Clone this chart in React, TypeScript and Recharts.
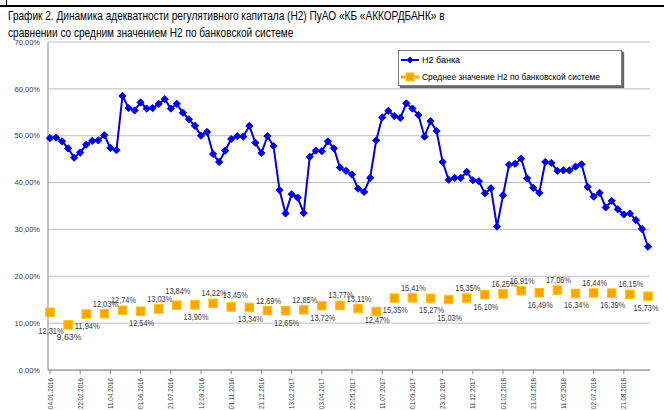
import React from "react";
import { CartesianGrid, LabelList, Legend, Line, LineChart, XAxis, YAxis } from "recharts";

// Н2 банка, % (один замер на декаду, 100 точек)
const BANK_H2 = [
  49.5, 49.6, 48.8, 47.3, 45.3, 46.4, 48.1, 48.9, 49.0, 50.1,
  47.4, 46.9, 58.5, 55.9, 55.4, 57.1, 55.8, 55.9, 56.8, 57.8,
  55.8, 56.8, 54.9, 53.5, 52.1, 50.0, 50.8, 46.1, 44.4, 46.8,
  49.3, 49.9, 49.8, 52.1, 48.5, 46.3, 49.9, 47.8, 38.4, 33.4,
  37.5, 36.8, 33.5, 45.5, 46.8, 46.7, 48.8, 47.3, 43.2, 42.5,
  41.7, 38.7, 38.0, 41.0, 49.0, 53.9, 55.3, 54.2, 53.8, 56.9,
  55.8, 54.4, 49.8, 53.1, 51.0, 44.4, 40.6, 41.0, 41.0, 42.3,
  40.5, 40.3, 37.7, 38.8, 30.6, 37.3, 43.8, 44.0, 45.1, 40.9,
  38.9, 37.8, 44.4, 44.2, 42.5, 42.6, 42.6, 43.4, 43.9, 39.1,
  37.0, 37.8, 34.7, 36.1, 34.3, 33.2, 33.4, 32.0, 30.1, 26.3,
];

// среднее Н2 по банковской системе, % (каждая третья декада)
const SYSTEM_H2 = [
  12.31, 9.63, 11.94, 12.03, 12.74, 12.54, 13.03, 13.84, 13.9, 14.22,
  13.45, 13.34, 12.69, 12.65, 12.85, 13.72, 13.77, 13.11, 12.47, 15.35,
  15.41, 15.27, 15.03, 15.35, 16.1, 16.25, 16.91, 16.49, 17.06, 16.34,
  16.44, 16.39, 16.15, 15.73,
];

// подпись сверху / снизу маркера
const SYSTEM_LABEL_SIDE = [
  "down", "down", "down", "up", "up", "down", "up", "up", "down", "up",
  "up", "down", "up", "down", "up", "down", "up", "up", "down", "down",
  "up", "down", "down", "up", "down", "up", "up", "down", "up", "down",
  "up", "down", "up", "down",
];

const TICK_LABELS = [
  "04.01.2016", "22.02.2016", "11.04.2016", "01.06.2016", "21.07.2016",
  "12.09.2016", "01.11.2016", "21.12.2016", "13.02.2017", "03.04.2017",
  "22.05.2017", "11.07.2017", "01.09.2017", "23.10.2017", "11.12.2017",
  "01.02.2018", "21.03.2018", "11.05.2018", "02.07.2018", "21.08.2018",
];

const Y_TICKS = [0, 10, 20, 30, 40, 50, 60, 70];

const data = BANK_H2.map((v, i) => ({
  i,
  bank: v,
  avg: i % 3 === 0 ? SYSTEM_H2[i / 3] : null,
}));

const BLUE = "#0000E6";
const ORANGE = "#FFA500";
const ORANGE_EDGE = "#FFC000";
const GRID = "#BFBFBF";
const AXIS = "#868686";
const TEXT = "#404040";
const FONT = "'Liberation Sans', Arial, sans-serif";

// ручные сдвиги подписей (как в исходной диаграмме)
const LABEL_NUDGE: Record<number, [number, number]> = {
  0: [0, 7],
  7: [0, -4],
  10: [3, -2],
  18: [0, -4],
  22: [0, 6],
  33: [-3, 0],
};

const pct = (v: number) => `${v.toFixed(2).replace(".", ",")}%`;

function Diamond(props: any) {
  const { cx, cy } = props;
  if (cx == null || cy == null) return null;
  const r = 3.6;
  return <path d={`M${cx},${cy - r}L${cx + r},${cy}L${cx},${cy + r}L${cx - r},${cy}Z`} fill={BLUE} stroke={BLUE} />;
}

function Square(props: any) {
  const { cx, cy, value } = props;
  if (cx == null || cy == null || value == null) return null;
  const s = 8.5;
  return <rect x={cx - s / 2} y={cy - s / 2} width={s} height={s} fill={ORANGE} stroke={ORANGE_EDGE} strokeWidth={1} />;
}

function AvgLabel(props: any) {
  const { x, y, value, index } = props;
  if (value == null || x == null || y == null) return null;
  const k = Math.round(index / 3);
  const dy = SYSTEM_LABEL_SIDE[k] === "up" ? -10 : 12;
  const [nx, ny] = LABEL_NUDGE[k] ?? [0, 0];
  return (
    <text
      x={x + 1 + nx}
      y={y + dy + ny}
      textAnchor="middle"
      dominantBaseline="central"
      fontSize={9}
      textLength={25}
      lengthAdjust="spacingAndGlyphs"
      fill={TEXT}
      fontFamily={FONT}
    >
      {pct(Number(value))}
    </text>
  );
}

function DateTick(props: any) {
  const { x, y, payload } = props;
  const label = TICK_LABELS[Math.round(payload.value / 5)];
  return (
    <text
      x={x}
      y={y + 2}
      transform={`rotate(-90 ${x} ${y + 2})`}
      textAnchor="end"
      dominantBaseline="central"
      fontSize={6.5}
      textLength={31}
      lengthAdjust="spacingAndGlyphs"
      fill={TEXT}
      fontFamily={FONT}
    >
      {label}
    </text>
  );
}

function LegendBox() {
  return (
    <div
      style={{
        width: 222,
        height: 34,
        background: "#fff",
        border: "1px solid #7f7f7f",
        boxShadow: "2px 2px 1px #666",
        fontFamily: FONT,
        color: "#000",
      }}
    >
      <svg width={222} height={34} style={{ display: "block" }}>
        <line x1={2} x2={20} y1={9} y2={9} stroke={BLUE} strokeWidth={2} />
        <path d="M11,5.5L14.5,9L11,12.5L7.5,9Z" fill={BLUE} />
        <text x={23} y={9} dominantBaseline="central" fontSize={9} fill="#000">Н2 банка</text>
        <line x1={2} x2={20} y1={26} y2={26} stroke={ORANGE} strokeWidth={3} />
        <rect x={7} y={22} width={8} height={8} fill={ORANGE} stroke={ORANGE_EDGE} />
        <text x={23} y={26} dominantBaseline="central" fontSize={9} textLength={178} lengthAdjust="spacingAndGlyphs" fill="#000">
          Среднее значение Н2 по банковской системе
        </text>
      </svg>
    </div>
  );
}

export default function App() {
  return (
    <div style={{ position: "absolute", left: 0, top: 0, width: 664, height: 410, background: "#fff", overflow: "hidden" }}>
      <div style={{ position: "absolute", left: 0, top: 5, width: 664, height: 2, background: "#000" }} />
      <div style={{ position: "absolute", left: 6, top: 0, width: 1, height: 6, background: "#000" }} />
      <div
        style={{
          position: "absolute",
          left: 8,
          top: 8,
          fontFamily: FONT,
          fontSize: 12,
          lineHeight: "17px",
          color: "#000",
          whiteSpace: "nowrap",
          transform: "scaleX(0.84)",
          transformOrigin: "0 0",
        }}
      >
        График 2. Динамика адекватности регулятивного капитала (Н2) ПуАО «КБ «АККОРДБАНК» в
        <br />
        сравнении со средним значением Н2 по банковской системе
      </div>
      <LineChart width={664} height={410} data={data} margin={{ top: 42, right: 14, bottom: 4, left: 8 }}>
        <CartesianGrid stroke={GRID} vertical={false} />
        <XAxis
          dataKey="i"
          type="category"
          interval={4}
          height={36}
          padding={{ left: 2, right: 2 }}
          stroke={AXIS}
          tickSize={4}
          tick={<DateTick />}
        />
        <YAxis
          domain={[0, 70]}
          ticks={Y_TICKS}
          tickFormatter={(v) => pct(Number(v))}
          stroke={AXIS}
          tickLine={false}
          width={40}
          tick={{ fontSize: 7.5, fill: TEXT, fontFamily: FONT }}
        />
        <Legend
          layout="horizontal"
          verticalAlign="middle"
          align="center"
          wrapperStyle={{ position: "absolute", left: 398, top: 50, width: 224 }}
          content={() => <LegendBox />}
        />
        <Line dataKey="bank" stroke={BLUE} strokeWidth={2} dot={<Diamond />} activeDot={false} isAnimationActive={false} />
        <Line dataKey="avg" stroke="none" dot={<Square />} activeDot={false} connectNulls={false} isAnimationActive={false}>
          <LabelList dataKey="avg" content={<AvgLabel />} />
        </Line>
      </LineChart>
    </div>
  );
}
